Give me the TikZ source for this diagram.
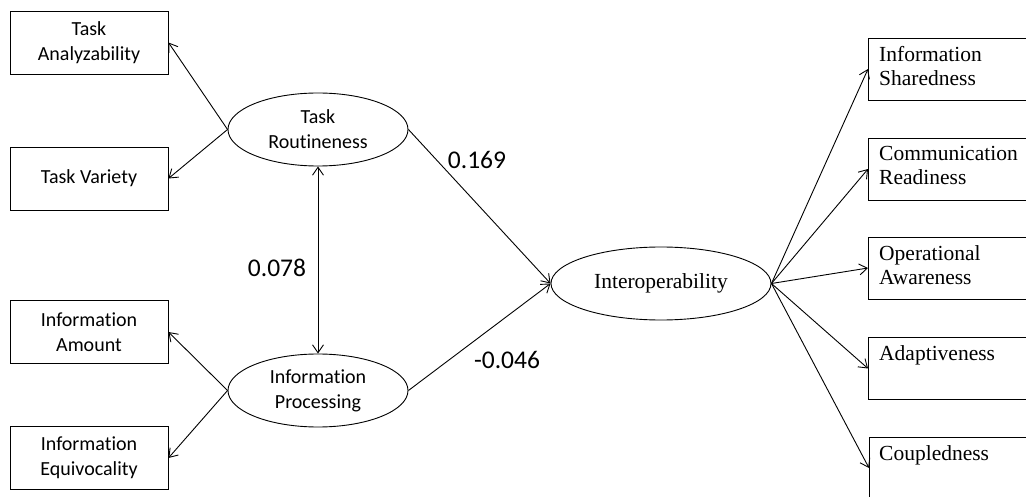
\documentclass[tikz,border=0pt]{standalone}
\usepackage{fontspec}
\newfontfamily\calfont[Ligatures=NoCommon]{Carlito}
\newfontfamily\tmsfont{Liberation Serif}
\usetikzlibrary{shapes.geometric,arrows.meta}
\begin{document}
\begin{tikzpicture}[x=1pt,y=-1pt,
  conn/.style={line width=0.9pt,-{Straight Barb[length=8pt,width=11pt,line width=0.9pt]}},
  lbox/.style={draw,line width=0.9pt,minimum width=158pt,minimum height=63pt,inner sep=0pt,align=center,font=\calfont\fontsize{20}{25}\selectfont},
  rbox/.style={draw,line width=0.9pt,minimum width=180pt,minimum height=62pt,inner sep=0pt,anchor=west},
  rtext/.style={anchor=north west,inner sep=0pt,align=left,font=\tmsfont\fontsize{21.5}{24.5}\selectfont},
  lat/.style={draw,ellipse,line width=0.9pt,inner sep=0pt,align=center},
  coef/.style={inner sep=0pt,font=\calfont\fontsize{25.5}{30}\selectfont}]
\useasboundingbox (0,0) rectangle (1026,497);
\clip (0,0) rectangle (1026,497);
% left indicator boxes
\node[lbox] (ta) at (89,42.5) {Task\\Analyzability};
\node[lbox] (tv) at (89,178.5) {Task Variety};
\node[lbox] (ia) at (89,332) {Information\\Amount};
\node[lbox] (ie) at (89,458) {Information\\Equivocality};
% latent variables
\node[lat,minimum width=180pt,minimum height=73pt,font=\calfont\fontsize{20}{25}\selectfont] (tr) at (318,129.5) {Task\\Routineness};
\node[lat,minimum width=180pt,minimum height=73pt,font=\calfont\fontsize{20}{25}\selectfont] (ip) at (318,390.5) {Information\\Processing};
\node[lat,minimum width=220pt,minimum height=73pt,font=\tmsfont\fontsize{21.5}{24.5}\selectfont] (io) at (661,283.5) {Interoperability};
% right indicator boxes
\node[rbox] (is) at (868,69) {};
\node[rbox] (cr) at (868,169) {};
\node[rbox] (oa) at (868,268) {};
\node[rbox] (ad) at (868,368.5) {};
\node[rbox] (cp) at (869,468) {};
\node[rtext] (ist) at (879,46) {Information\\Sharedness};
\node[rtext] (crt) at (879,146) {Communication\\Readiness};
\node[rtext] (oat) at (879,245) {Operational\\Awareness};
\node[rtext] (adt) at (879,345) {Adaptiveness};
\node[rtext] (cpt) at (879,445) {Coupledness};
% connectors
\draw[conn] (tr.west) -- (ta.east);
\draw[conn] (tr.west) -- (tv.east);
\draw[conn] (ip.west) -- (ia.east);
\draw[conn] (ip.west) -- (ie.east);
\draw[conn,{Straight Barb[length=8pt,width=11pt,line width=0.9pt]}-{Straight Barb[length=8pt,width=11pt,line width=0.9pt]}] (tr.south) -- (ip.north);
\draw[conn] (tr.east) -- (io.west);
\draw[conn] (ip.east) -- (io.west);
\draw[conn] (io.east) -- (is.west);
\draw[conn] (io.east) -- (cr.west);
\draw[conn] (io.east) -- (oa.west);
\draw[conn] (io.east) -- (ad.west);
\draw[conn] (io.east) -- (cp.west);
% coefficients
\node[coef] (c1) at (477,160) {0.169};
\node[coef] (c2) at (507,360) {-0.046};
\node[coef] (c3) at (277,268) {0.078};
\end{tikzpicture}
\end{document}
